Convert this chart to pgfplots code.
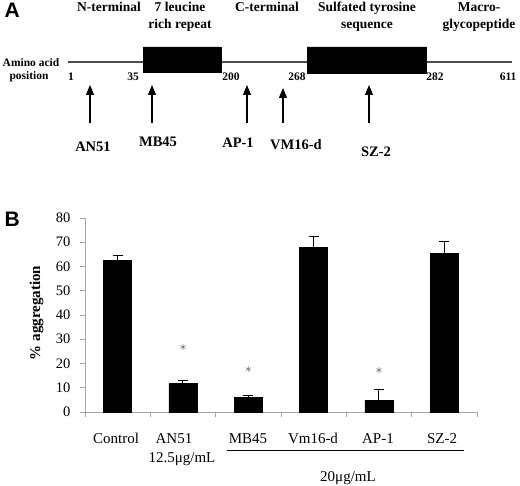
\documentclass[border=0pt]{standalone}
\usepackage{fontspec}
\setmainfont{Liberation Serif}
\newfontfamily\panelfont{Liberation Sans}
\usepackage{pgfplots}
\pgfplotsset{compat=1.18}
\usetikzlibrary{arrows.meta}
\begin{document}
\begin{tikzpicture}
\useasboundingbox (0,0) rectangle (520pt,486pt);
% ---------- frame axis (panel A and annotations), pixel coordinates ----------
\begin{axis}[at={(0,0)}, anchor=south west, width=520pt, height=486pt,
  scale only axis, xmin=0, xmax=520, ymin=0, ymax=486, y dir=reverse,
  hide axis, clip=false]
\addplot[gray!60!black, line width=1.2pt] coordinates {(68,62) (512,62)};
\addplot[fill=black, draw=black] coordinates {(143,47) (221,47) (221,72) (143,72) (143,47)};
\addplot[fill=black, draw=black] coordinates {(307,47) (426,47) (426,73) (307,73) (307,47)};
\addplot[black, line width=1.1pt, -{Triangle[length=10pt,width=8pt]}] coordinates {(90,123) (90,85)};
\addplot[black, line width=1.1pt, -{Triangle[length=10pt,width=8pt]}] coordinates {(152,123) (152,85)};
\addplot[black, line width=1.1pt, -{Triangle[length=10pt,width=8pt]}] coordinates {(247,123) (247,85)};
\addplot[black, line width=1.1pt, -{Triangle[length=10pt,width=8pt]}] coordinates {(283,123) (283,88)};
\addplot[black, line width=1.1pt, -{Triangle[length=10pt,width=8pt]}] coordinates {(369,123) (369,85)};
% underline for 20 ug/mL group
\addplot[black, line width=0.8pt] coordinates {(227,450) (464,450)};
% panel letters
\node[anchor=base west, font=\panelfont\bfseries\fontsize{21}{24}\selectfont] at (axis cs:1,18) {A};
\node[anchor=base west, font=\panelfont\bfseries\fontsize{21}{24}\selectfont] at (axis cs:1,227) {B};
% header labels
\begin{scope}[every node/.style={anchor=base, font=\bfseries\fontsize{13.5}{17}\selectfont}]
\node at (axis cs:109,12) {N-terminal};
\node at (axis cs:180,12) {7 leucine};
\node at (axis cs:180,29) {rich repeat};
\node at (axis cs:267,12) {C-terminal};
\node at (axis cs:367,12) {Sulfated tyrosine};
\node at (axis cs:367,29) {sequence};
\node at (axis cs:479,12) {Macro-};
\node at (axis cs:479,29) {glycopeptide};
\end{scope}
\begin{scope}[every node/.style={anchor=base, font=\bfseries\fontsize{11.5}{14}\selectfont}]
\node at (axis cs:31,67) {Amino acid};
\node at (axis cs:29,80) {position};
\node at (axis cs:71,81) {1};
\node at (axis cs:133,81) {35};
\node at (axis cs:231,81) {200};
\node at (axis cs:297,81) {268};
\node at (axis cs:435,81) {282};
\node[anchor=base east] at (axis cs:520,81) {611};
\end{scope}
\begin{scope}[every node/.style={anchor=base, font=\bfseries\fontsize{14.5}{18}\selectfont}]
\node at (axis cs:93,152) {AN51};
\node at (axis cs:158,147) {MB45};
\node at (axis cs:238,148) {AP-1};
\node at (axis cs:296,150) {VM16-d};
\node at (axis cs:376,157) {SZ-2};
\end{scope}
% panel B text outside axis
\begin{scope}[every node/.style={anchor=base, font=\fontsize{15}{18}\selectfont}]
\node at (axis cs:116,444) {Control};
\node at (axis cs:174,444) {AN51};
\node at (axis cs:182,463) {12.5μg/mL};
\node at (axis cs:248,444) {MB45};
\node at (axis cs:313,444) {Vm16-d};
\node at (axis cs:378,444) {AP-1};
\node at (axis cs:442,444) {SZ-2};
\node at (axis cs:348,482) {20μg/mL};
\end{scope}
\node[rotate=90, anchor=center, font=\bfseries\fontsize{15}{18}\selectfont] at (axis cs:36.5,313) {\% aggregation};
\end{axis}
% ---------- panel B bar chart ----------
\begin{axis}[at={(85pt,74pt)}, anchor=south west, width=392pt, height=194pt,
  scale only axis, xmin=-0.5, xmax=5.5, ymin=0, ymax=80,
  axis lines*=left,
  axis line style={gray!70, line width=0.8pt},
  tick style={gray!70, line width=0.8pt},
  tick align=outside, major tick length=5pt,
  xtick={-0.5,0.5,1.5,2.5,3.5,4.5,5.5}, xticklabels={},
  ytick={0,10,...,80},
  /pgf/number format/assume math mode=true,
  yticklabel style={font=\fontsize{14.5}{17}\selectfont, xshift=-6pt},
  clip=false]
\addplot[ybar, bar width=28pt, fill=black, draw=black,
  error bars/.cd, y dir=plus, y explicit, error mark=|,
  error bar style={black, line width=1pt},
  error mark options={black, line width=1pt, mark size=5pt}]
  coordinates {(0,62.4) +- (0,2.1) (1,11.7) +- (0,1.2) (2,6.1) +- (0,0.8)
               (3,67.9) +- (0,4.6) (4,4.7) +- (0,4.5) (5,65.4) +- (0,5.1)};
\addplot[only marks, mark=asterisk, mark size=3pt, gray, mark options={line width=0.6pt}]
  coordinates {(1,26.8) (2,17.7) (4,17.3)};
\end{axis}
\end{tikzpicture}
\end{document}
